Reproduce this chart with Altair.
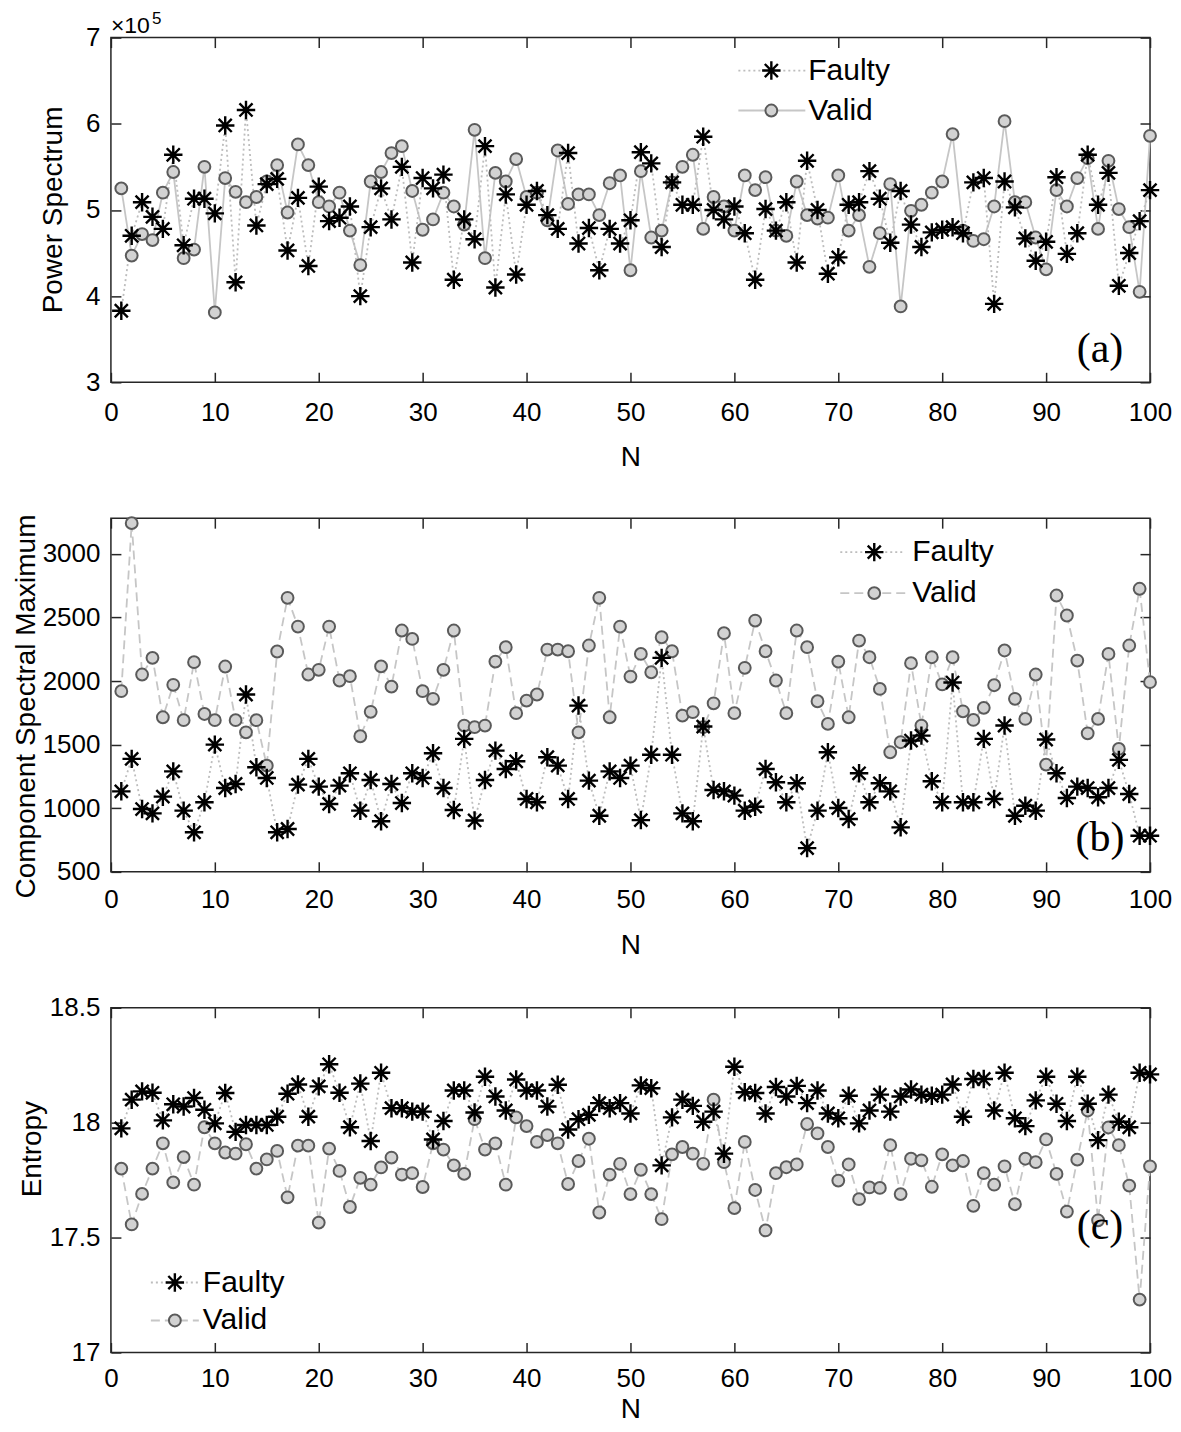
import altair as alt
import pandas as pd

N = list(range(1, 101))
X_TICKS = [0, 10, 20, 30, 40, 50, 60, 70, 80, 90, 100]

# Panel (a) power spectrum, in units of 1e5
a_faulty = [3.83, 4.70, 5.09, 4.92, 4.78, 5.64, 4.59, 5.13, 5.13, 4.96,
            5.98, 4.16, 6.16, 4.82, 5.30, 5.36, 4.53, 5.14, 4.35, 5.27,
            4.87, 4.91, 5.04, 4.00, 4.80, 5.25, 4.89, 5.50, 4.39, 5.37,
            5.25, 5.41, 4.19, 4.89, 4.66, 5.74, 4.10, 5.18, 4.25, 5.06,
            5.22, 4.94, 4.78, 5.66, 4.61, 4.79, 4.30, 4.78, 4.61, 4.88,
            5.67, 5.54, 4.57, 5.32, 5.06, 5.06, 5.85, 5.00, 4.89, 5.04,
            4.73, 4.19, 5.01, 4.76, 5.09, 4.39, 5.57, 5.00, 4.26, 4.45,
            5.06, 5.09, 5.45, 5.13, 4.62, 5.22, 4.83, 4.57, 4.74, 4.77,
            4.80, 4.73, 5.32, 5.37, 3.91, 5.33, 5.03, 4.67, 4.41, 4.63,
            5.38, 4.49, 4.73, 5.64, 5.06, 5.43, 4.12, 4.50, 4.87, 5.23]
a_valid = [5.25, 4.47, 4.72, 4.65, 5.20, 5.44, 4.44, 4.54, 5.50, 3.81,
           5.37, 5.21, 5.09, 5.15, 5.33, 5.52, 4.97, 5.76, 5.52, 5.09,
           5.04, 5.20, 4.76, 4.36, 5.33, 5.44, 5.66, 5.74, 5.22, 4.77,
           4.89, 5.20, 5.04, 4.83, 5.93, 4.44, 5.43, 5.33, 5.59, 5.15,
           5.20, 4.88, 5.69, 5.07, 5.18, 5.18, 4.94, 5.31, 5.40, 4.30,
           5.45, 4.68, 4.76, 5.32, 5.50, 5.64, 4.78, 5.15, 5.04, 4.76,
           5.40, 5.23, 5.38, 4.76, 4.70, 5.33, 4.94, 4.90, 4.91, 5.40,
           4.76, 4.94, 4.34, 4.73, 5.30, 3.88, 4.99, 5.06, 5.20, 5.33,
           5.88, 4.76, 4.64, 4.66, 5.04, 6.03, 5.09, 5.09, 4.68, 4.31,
           5.23, 5.04, 5.37, 5.60, 4.78, 5.57, 5.01, 4.80, 4.05, 5.86]

# Panel (b) component spectral maximum
b_faulty = [1133, 1388, 994, 960, 1091, 1290, 981, 811, 1047, 1500,
            1159, 1191, 1894, 1322, 1238, 811, 837, 1186, 1388, 1170,
            1034, 1178, 1275, 981, 1222, 898, 1191, 1041, 1275, 1238,
            1432, 1159, 986, 1545, 904, 1222, 1453, 1308, 1369, 1073,
            1047, 1401, 1335, 1073, 1807, 1217, 941, 1290, 1238, 1335,
            907, 1421, 2182, 1421, 960, 898, 1642, 1144, 1133, 1099,
            981, 1012, 1308, 1204, 1047, 1196, 687, 981, 1440, 1002,
            915, 1275, 1047, 1196, 1133, 850, 1532, 1571, 1212, 1047,
            1988, 1047, 1047, 1545, 1073, 1650, 941, 1020, 981, 1540,
            1275, 1081, 1170, 1159, 1086, 1159, 1380, 1112, 784, 784]
b_valid = [1920, 3241, 2051, 2182, 1715, 1970, 1692, 2148, 1741, 1692,
           2114, 1692, 1597, 1692, 1335, 2232, 2654, 2428, 2051, 2088,
           2428, 2004, 2038, 1566, 1758, 2115, 1956, 2397, 2331, 1920,
           1860, 2088, 2397, 1650, 1637, 1650, 2153, 2266, 1747, 1846,
           1894, 2247, 2247, 2234, 1597, 2279, 2654, 1715, 2428, 2035,
           2213, 2069, 2344, 2234, 1728, 1755, 1637, 1825, 2376, 1747,
           2104, 2475, 2234, 2004, 1747, 2397, 2266, 1841, 1663, 2153,
           1715, 2318, 2187, 1938, 1440, 1519, 2140, 1650, 2187, 1973,
           2187, 1762, 1694, 1789, 1967, 2240, 1860, 1702, 2051, 1343,
           2672, 2515, 2161, 1589, 1702, 2213, 1466, 2279, 2725, 1991]

# Panel (c) entropy
c_faulty = [17.975, 18.100, 18.136, 18.130, 18.010, 18.080, 18.070, 18.107, 18.056, 17.997,
            18.129, 17.960, 17.990, 17.990, 17.990, 18.026, 18.126, 18.166, 18.026, 18.158,
            18.254, 18.130, 17.980, 18.170, 17.920, 18.217, 18.063, 18.063, 18.048, 18.048,
            17.927, 18.007, 18.140, 18.140, 18.044, 18.200, 18.114, 18.053, 18.188, 18.140,
            18.140, 18.070, 18.165, 17.970, 18.015, 18.034, 18.085, 18.063, 18.085, 18.040,
            18.162, 18.150, 17.814, 18.023, 18.100, 18.073, 18.004, 18.048, 17.865, 18.243,
            18.132, 18.129, 18.040, 18.155, 18.114, 18.160, 18.085, 18.140, 18.040, 18.019,
            18.117, 17.997, 18.053, 18.122, 18.048, 18.114, 18.144, 18.122, 18.117, 18.122,
            18.166, 18.026, 18.190, 18.190, 18.053, 18.217, 18.019, 17.985, 18.097, 18.200,
            18.082, 18.007, 18.200, 18.082, 17.924, 18.122, 18.004, 17.980, 18.217, 18.210]
c_valid = [17.800, 17.557, 17.690, 17.800, 17.910, 17.740, 17.850, 17.730, 17.980, 17.910,
           17.870, 17.865, 17.906, 17.800, 17.840, 17.877, 17.675, 17.900, 17.900, 17.565,
           17.887, 17.790, 17.633, 17.760, 17.730, 17.805, 17.848, 17.774, 17.780, 17.720,
           17.910, 17.883, 17.814, 17.777, 18.015, 17.883, 17.910, 17.730, 18.023, 17.985,
           17.916, 17.946, 17.910, 17.733, 17.833, 17.930, 17.609, 17.774, 17.821, 17.689,
           17.795, 17.689, 17.580, 17.862, 17.894, 17.865, 17.821, 18.100, 17.828, 17.628,
           17.916, 17.707, 17.531, 17.780, 17.806, 17.818, 17.994, 17.953, 17.894, 17.748,
           17.818, 17.667, 17.718, 17.716, 17.902, 17.689, 17.843, 17.836, 17.721, 17.862,
           17.814, 17.833, 17.638, 17.780, 17.730, 17.810, 17.645, 17.843, 17.828, 17.927,
           17.777, 17.613, 17.839, 18.053, 17.575, 17.979, 17.902, 17.726, 17.230, 17.810]

SERIES = ["Faulty", "Valid"]

FONT = "Liberation Sans, Arial, Helvetica, sans-serif"
NARROW = "Liberation Sans Narrow, Arial Narrow, Liberation Sans, Arial, sans-serif"
SERIF = "Liberation Serif, Times New Roman, serif"
INK = "#262626"
DOT_GRAY = "#bdbdbd"
DASH_GRAY = "#c6c6c6"
FILL = "#d2d2d2"
EDGE = "#5a5a5a"
STAR = "M0,-1L0,1M-1,0L1,0M-0.71,-0.71L0.71,0.71M-0.71,0.71L0.71,-0.71"
STAR_SIZE = 340
CIRC_SIZE = 140


def panel(faulty, valid, ydom, yticks, ytitle, W, H, cfg):
    df_f = pd.DataFrame({"N": N, "v": faulty})
    df_v = pd.DataFrame({"N": N, "v": valid})
    xs = alt.Scale(domain=[0, 100], nice=False)
    ys = alt.Scale(domain=ydom, nice=False, zero=False)

    x_main = alt.Axis(values=X_TICKS, title="N", ticks=False, tickSize=0, domain=False,
                      grid=False, labelFont=NARROW, labelFontSize=26, labelColor="black",
                      labelFlush=False, labelOverlap=False, minExtent=0,
                      labelBaseline="middle", labelPadding=cfg["xlab"],
                      titleFont=FONT, titleFontSize=28, titleFontWeight="normal",
                      titleColor="black", titleBaseline="middle", titleY=cfg["xtitle"])
    y_main = alt.Axis(values=yticks, title=ytitle, ticks=False, tickSize=0, domain=False,
                      grid=False, labelFont=NARROW, labelFontSize=26, labelColor="black",
                      labelFlush=False, labelOverlap=False,
                      labelPadding=11, labelExpr="datum.value",
                      titleFont=FONT, titleFontSize=28, titleFontWeight="normal",
                      titleColor="black", titleAngle=270, titleAlign="center",
                      titleBaseline="middle", titleX=cfg["ytx"], titleY=cfg["yty"])

    def tick_axis(orient, off, vals):
        return alt.Axis(orient=orient, offset=off, values=vals, labels=False, domain=False,
                        grid=False, ticks=True, tickSize=10, tickWidth=1.5,
                        tickColor=INK, title=None, minExtent=0, maxExtent=0)

    valid_dash = [1, 0] if cfg["solid_valid"] else [9, 5]
    l_valid = alt.Chart(df_v).mark_line(color=DASH_GRAY, strokeWidth=1.8,
                                        strokeDash=valid_dash).encode(
        x=alt.X("N:Q", scale=xs, axis=x_main),
        y=alt.Y("v:Q", scale=ys, axis=y_main))
    l_faulty = alt.Chart(df_f).mark_line(color=DOT_GRAY, strokeWidth=1.8,
                                         strokeDash=[2, 3]).encode(
        x=alt.X("N:Q", scale=xs, axis=tick_axis("top", -H, X_TICKS)),
        y=alt.Y("v:Q", scale=ys, axis=tick_axis("right", -W, yticks)))
    p_valid = alt.Chart(df_v).mark_point(shape="circle", size=CIRC_SIZE, fill=FILL,
                                         fillOpacity=1, stroke=EDGE, strokeWidth=2,
                                         opacity=1).encode(
        x=alt.X("N:Q", scale=xs, axis=tick_axis("bottom", -H, X_TICKS)),
        y=alt.Y("v:Q", scale=ys, axis=tick_axis("left", -W, yticks)))
    p_faulty = alt.Chart(df_f).mark_point(shape=STAR, size=STAR_SIZE, color="black",
                                          strokeWidth=2.4, opacity=1).encode(
        x=alt.X("N:Q", scale=xs, axis=None),
        y=alt.Y("v:Q", scale=ys, axis=None))

    # legend
    lx0, lx1, lmx, ltx, ly1, ly2 = cfg["legend"]
    d_f = pd.DataFrame({"t": [SERIES[0]]})
    d_v = pd.DataFrame({"t": [SERIES[1]]})
    leg = [
        alt.Chart(d_f).mark_rule(color=DOT_GRAY, strokeWidth=1.8, strokeDash=[2, 3]).encode(
            x=alt.value(lx0), x2=alt.value(lx1), y=alt.value(ly1)),
        alt.Chart(d_f).mark_point(shape=STAR, size=STAR_SIZE, color="black",
                                  strokeWidth=2.4, opacity=1).encode(
            x=alt.value(lmx), y=alt.value(ly1)),
        alt.Chart(d_f).mark_text(align="left", baseline="middle", font=FONT,
                                 fontSize=30, color="black").encode(
            x=alt.value(ltx), y=alt.value(ly1), text="t:N"),
        alt.Chart(d_v).mark_rule(color=DASH_GRAY, strokeWidth=1.8,
                                 strokeDash=valid_dash).encode(
            x=alt.value(lx0), x2=alt.value(lx1), y=alt.value(ly2)),
        alt.Chart(d_v).mark_point(shape="circle", size=CIRC_SIZE, fill=FILL, fillOpacity=1,
                                  stroke=EDGE, strokeWidth=2, opacity=1).encode(
            x=alt.value(lmx), y=alt.value(ly2)),
        alt.Chart(d_v).mark_text(align="left", baseline="middle", font=FONT,
                                 fontSize=30, color="black").encode(
            x=alt.value(ltx), y=alt.value(ly2), text="t:N"),
    ]
    tag = alt.Chart(pd.DataFrame({"t": [cfg["tag"]]})).mark_text(
        align="center", baseline="middle", font=SERIF, fontSize=42, color="black").encode(
        x=alt.value(cfg["tagxy"][0]), y=alt.value(cfg["tagxy"][1]), text="t:N")

    layers = [l_valid, l_faulty, p_valid, p_faulty] + leg + [tag]
    if cfg.get("exp"):
        layers += [
            alt.Chart(pd.DataFrame({"t": ["×10"]})).mark_text(
                align="left", baseline="middle", font=FONT, fontSize=23, color="black").encode(
                x=alt.value(0), y=alt.value(-12), text="t:N"),
            alt.Chart(pd.DataFrame({"t": ["5"]})).mark_text(
                align="left", baseline="middle", font=FONT, fontSize=17, color="black").encode(
                x=alt.value(41), y=alt.value(-19), text="t:N"),
        ]
    return alt.layer(*layers).resolve_axis(x="independent", y="independent").properties(
        width=W, height=H)


pa = panel(a_faulty, a_valid, [3, 7], [3, 4, 5, 6, 7], "Power Spectrum", 1040, 345,
           dict(xlab=30, xtitle=75, ytx=-57, yty=172, solid_valid=True,
                legend=(628, 695, 661, 698, 33, 73), tag="(a)", tagxy=(990, 312), exp=True))
pb = panel(b_faulty, b_valid, [500, 3280], [500, 1000, 1500, 2000, 2500, 3000],
           "Component Spectral Maximum", 1040, 354,
           dict(xlab=28, xtitle=74, ytx=-84, yty=188, solid_valid=False,
                legend=(730, 795, 764, 802, 34, 75), tag="(b)", tagxy=(990, 320)))
pc = panel(c_faulty, c_valid, [17, 18.5], [17, 17.5, 18, 18.5], "Entropy", 1040, 345,
           dict(xlab=26, xtitle=57, ytx=-78, yty=141, solid_valid=False,
                legend=(40, 88, 64, 92, 275, 313), tag="(c)", tagxy=(990, 218)))

chart = alt.vconcat(pa, pb, pc, spacing=136, bounds="flush").properties(
    padding={"left": 4, "top": 0, "right": 0, "bottom": 0},
    background="white",
).configure_view(stroke=INK, strokeWidth=1.5)

chart.save("out.html", embed_options={"renderer": "svg", "actions": False})
